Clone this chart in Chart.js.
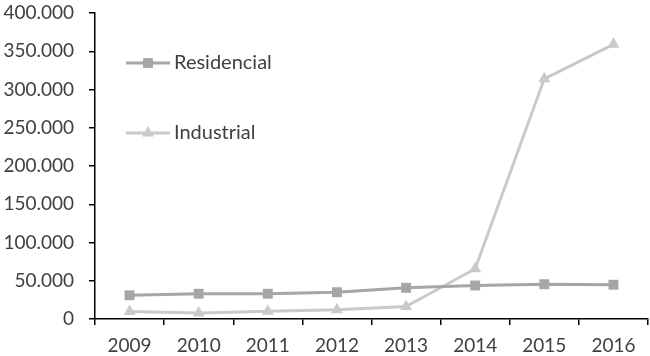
<!DOCTYPE html>
<html>
<head>
<meta charset="utf-8">
<script src="https://cdn.jsdelivr.net/npm/chart.js@4.4.0/dist/chart.umd.min.js"></script>
<style>
html,body{margin:0;padding:0;background:#fff;}
#wrap{width:650px;height:356px;position:relative;}
</style>
</head>
<body>
<div id="wrap"><canvas id="c" width="650" height="356"></canvas></div>
<script>
const categories = ['2009','2010','2011','2012','2013','2014','2015','2016'];
const residencial = [31000, 33000, 33000, 35000, 40800, 43800, 45500, 44800];
const industrial = [9800, 7800, 10200, 12000, 16400, 65700, 314000, 359000];
const yTicks = [0, 50000, 100000, 150000, 200000, 250000, 300000, 350000, 400000];

const FONT = 'Lato';
const TXT = '#404040';
function fmt(v){
  return String(Math.round(v)).replace(/\B(?=(\d{3})+(?!\d))/g, '.');
}

const inPlotLegend = {
  id: 'inPlotLegend',
  afterDatasetsDraw(chart){
    const ctx = chart.ctx;
    const rows = [63, 133];
    chart.data.datasets.forEach((ds, i) => {
      const y = rows[i];
      ctx.save();
      ctx.strokeStyle = ds.borderColor;
      ctx.lineWidth = ds.borderWidth;
      ctx.beginPath(); ctx.moveTo(126, y); ctx.lineTo(170, y); ctx.stroke();
      ctx.fillStyle = ds.pointBackgroundColor;
      ctx.strokeStyle = ds.pointBackgroundColor;
      Chart.helpers.drawPoint(ctx, {pointStyle: ds.pointStyle, radius: ds.pointRadius, rotation: 0, borderWidth: 0}, 148, y);
      ctx.fillStyle = TXT;
      ctx.font = '20px ' + FONT;
      ctx.textAlign = 'left';
      ctx.textBaseline = 'middle';
      ctx.fillText(ds.label, 174, y);
      ctx.restore();
    });
  }
};

new Chart(document.getElementById('c'), {
  type: 'line',
  data: {
    labels: categories,
    datasets: [
      {label: 'Residencial', data: residencial, borderColor: '#A6A6A6', backgroundColor: '#A6A6A6',
       pointBackgroundColor: '#A6A6A6', pointBorderColor: '#A6A6A6', borderWidth: 3,
       pointStyle: 'rect', pointRadius: 7, pointBorderWidth: 0, tension: 0},
      {label: 'Industrial', data: industrial, borderColor: '#CACACA', backgroundColor: '#CACACA',
       pointBackgroundColor: '#CACACA', pointBorderColor: '#CACACA', borderWidth: 3,
       pointStyle: 'triangle', pointRadius: 7, pointBorderWidth: 0, tension: 0}
    ]
  },
  options: {
    responsive: false,
    animation: false,
    layout: {padding: {left: 0, right: 2, top: 13, bottom: 0}, autoPadding: false},
    plugins: {legend: {display: false}, tooltip: {enabled: false}},
    scales: {
      x: {
        type: 'category',
        offset: true,
        grid: {display: true, drawOnChartArea: false, offset: true, tickLength: 6, color: '#000', lineWidth: 1.5},
        border: {display: true, color: '#000', width: 1.5},
        ticks: {color: TXT, font: {family: FONT, size: 19}, padding: 9, maxRotation: 0},
        afterFit(s){ s.height = 37; s.paddingLeft = 0; s.paddingRight = 0; }
      },
      y: {
        min: 0, max: 400000,
        afterBuildTicks(s){ s.ticks = yTicks.map(v => ({value: v})); },
        grid: {display: true, drawOnChartArea: false, tickLength: 6, color: '#000', lineWidth: 1.5},
        border: {display: true, color: '#000', width: 1.5},
        ticks: {color: TXT, font: {family: FONT, size: 19}, padding: 15, callback: v => fmt(v)},
        afterFit(s){ s.width = 95; s.paddingTop = 0; s.paddingBottom = 0; }
      }
    }
  },
  plugins: [inPlotLegend]
});
</script>
</body>
</html>
